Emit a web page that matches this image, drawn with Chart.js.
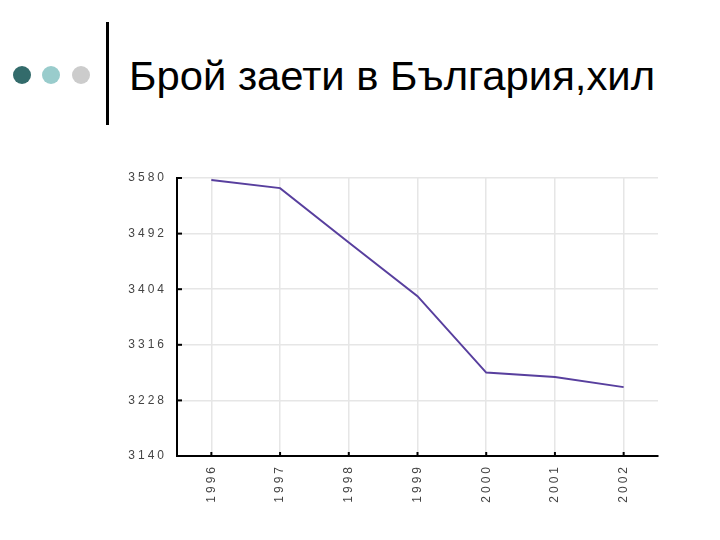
<!DOCTYPE html>
<html>
<head>
<meta charset="utf-8">
<script src="https://cdn.jsdelivr.net/npm/chart.js@4"></script>
<style>
  html, body { margin: 0; padding: 0; background: #fff; }
  #wrap { position: relative; width: 720px; height: 540px; overflow: hidden; }
  #chart { position: absolute; left: 0; top: 0; }
  .dot { position: absolute; width: 18px; height: 18px; border-radius: 50%; top: 66px; }
  #bar { position: absolute; left: 106px; top: 22px; width: 3px; height: 103px; background: #000; }
  #title { position: absolute; left: 129px; top: 56px; font: 40px/40px "Liberation Sans", Arial, sans-serif; color: #000; white-space: nowrap; transform: scaleX(1.045); transform-origin: 0 0; }
</style>
</head>
<body>
<div id="wrap">
  <div class="dot" style="left:13px;background:#336b6b"></div>
  <div class="dot" style="left:42px;background:#99cccc"></div>
  <div class="dot" style="left:72px;background:#cccccc"></div>
  <div id="bar"></div>
  <div id="title">Брой заети в България,хил</div>
  <canvas id="chart" width="720" height="540"></canvas>
</div>
<script>
// employed persons, thousands
const years = ['1996', '1997', '1998', '1999', '2000', '2001', '2002'];
const employed = [3577, 3564, 3478, 3393, 3272, 3265, 3249];
const yMin = 3140;
const yMax = 3580;
const yStep = 88;

// ticks drawn by hand: labels spaced out, x labels read bottom-up, tick marks inside
const tickPlugin = {
    id: 'tickLabels',
    afterDraw(chart) {
        const ctx = chart.ctx;
        const area = chart.chartArea;
        const xs = chart.scales.x;
        const ys = chart.scales.y;
        ctx.save();
        ctx.font = '12px "Liberation Sans", Arial, sans-serif';
        ctx.fillStyle = '#444';
        ctx.letterSpacing = '3px';
        ctx.strokeStyle = '#000';
        ctx.lineWidth = 2;

        ys.ticks.forEach(t => {
            const y = ys.getPixelForValue(t.value);
            ctx.textAlign = 'right';
            ctx.textBaseline = 'middle';
            ctx.fillText(String(t.value), 167, y);
            ctx.beginPath();
            ctx.moveTo(area.left, y);
            ctx.lineTo(area.left + 5, y);
            ctx.stroke();
        });

        xs.getLabels().forEach((label, i) => {
            const x = xs.getPixelForTick(i);
            ctx.beginPath();
            ctx.moveTo(x, area.bottom);
            ctx.lineTo(x, area.bottom - 4);
            ctx.stroke();
            ctx.save();
            ctx.translate(x, area.bottom + 8);
            ctx.rotate(-Math.PI / 2);
            ctx.textAlign = 'right';
            ctx.textBaseline = 'middle';
            ctx.fillText(label, 0, 0);
            ctx.restore();
        });
        ctx.restore();
    }
};

new Chart(document.getElementById('chart'), {
    type: 'line',
    data: {
        labels: years,
        datasets: [{
            data: employed,
            borderColor: '#583f9e',
            borderWidth: 2,
            pointRadius: 0,
            tension: 0,
            fill: false
        }]
    },
    options: {
        responsive: false,
        animation: false,
        layout: {padding: {left: 177, right: 62, top: 178, bottom: 84}},
        plugins: {legend: {display: false}, tooltip: {enabled: false}},
        scales: {
            x: {
                offset: true,
                grid: {offset: false, color: '#e6e6e6', lineWidth: 1.5, drawTicks: false},
                border: {color: '#000', width: 2},
                ticks: {display: false}
            },
            y: {
                min: yMin,
                max: yMax,
                grid: {color: '#e6e6e6', lineWidth: 1.5, drawTicks: false},
                border: {color: '#000', width: 2},
                ticks: {display: false, stepSize: yStep}
            }
        }
    },
    plugins: [tickPlugin]
});
</script>
</body>
</html>
